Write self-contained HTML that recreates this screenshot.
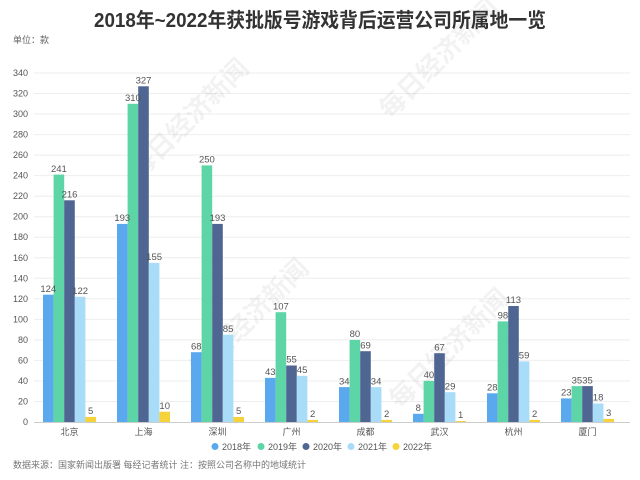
<!DOCTYPE html>
<html><head><meta charset="utf-8"><style>
body{margin:0;background:#fff;}
svg{display:block;font-family:"Liberation Sans","Noto Sans CJK SC",sans-serif;}
</style></head><body>
<svg width="640" height="480" viewBox="0 0 640 480" xmlns="http://www.w3.org/2000/svg">
<rect width="640" height="480" fill="#fff"/>
<text x="320" y="27" text-anchor="middle" font-size="20" font-weight="bold" fill="#333" textLength="452" lengthAdjust="spacingAndGlyphs">2018年~2022年获批版号游戏背后运营公司所属地一览</text>
<text x="13" y="43" font-size="9" fill="#666">单位：款</text>
<g stroke="#eee" stroke-width="1">
<line x1="34" x2="630" y1="401.5" y2="401.5"/><line x1="34" x2="630" y1="381" y2="381"/><line x1="34" x2="630" y1="360.4" y2="360.4"/><line x1="34" x2="630" y1="339.9" y2="339.9"/><line x1="34" x2="630" y1="319.4" y2="319.4"/><line x1="34" x2="630" y1="298.8" y2="298.8"/><line x1="34" x2="630" y1="278.3" y2="278.3"/><line x1="34" x2="630" y1="257.8" y2="257.8"/><line x1="34" x2="630" y1="237.2" y2="237.2"/><line x1="34" x2="630" y1="216.7" y2="216.7"/><line x1="34" x2="630" y1="196.2" y2="196.2"/><line x1="34" x2="630" y1="175.6" y2="175.6"/><line x1="34" x2="630" y1="155.1" y2="155.1"/><line x1="34" x2="630" y1="134.6" y2="134.6"/><line x1="34" x2="630" y1="114" y2="114"/><line x1="34" x2="630" y1="93.5" y2="93.5"/><line x1="34" x2="630" y1="73" y2="73"/>
</g>
<g font-size="9" fill="#555" text-anchor="end">
<text x="28" y="425">0</text><text x="28" y="404.5">20</text><text x="28" y="384">40</text><text x="28" y="363.4">60</text><text x="28" y="342.9">80</text><text x="28" y="322.4">100</text><text x="28" y="301.8">120</text><text x="28" y="281.3">140</text><text x="28" y="260.8">160</text><text x="28" y="240.2">180</text><text x="28" y="219.7">200</text><text x="28" y="199.2">220</text><text x="28" y="178.6">240</text><text x="28" y="158.1">260</text><text x="28" y="137.6">280</text><text x="28" y="117">300</text><text x="28" y="96.5">320</text><text x="28" y="76">340</text>
</g>
<g font-size="26" font-weight="bold" fill="#000" fill-opacity="0.05">
<text x="140" y="180" transform="rotate(-45 140 180)">每日经济新闻</text>
<text x="390" y="120" transform="rotate(-45 390 120)">每日经济新闻</text>
<text x="200" y="380" transform="rotate(-45 200 380)">每日经济新闻</text>
<text x="400" y="410" transform="rotate(-45 400 410)">每日经济新闻</text>
</g>
<!-- bars -->
<g>
<rect x="43" y="294.7" width="10.6" height="127.3" fill="#5aa9ee"/><rect x="53.6" y="174.6" width="10.6" height="247.4" fill="#5dd5a6"/><rect x="64.2" y="200.3" width="10.6" height="221.7" fill="#4f6592"/><rect x="74.8" y="296.8" width="10.6" height="125.2" fill="#a9dcf8"/><rect x="85.4" y="416.9" width="10.6" height="5.1" fill="#f7d33b"/>
<rect x="117" y="223.9" width="10.6" height="198.1" fill="#5aa9ee"/><rect x="127.6" y="103.8" width="10.6" height="318.2" fill="#5dd5a6"/><rect x="138.2" y="86.3" width="10.6" height="335.7" fill="#4f6592"/><rect x="148.8" y="262.9" width="10.6" height="159.1" fill="#a9dcf8"/><rect x="159.4" y="411.7" width="10.6" height="10.3" fill="#f7d33b"/>
<rect x="191" y="352.2" width="10.6" height="69.8" fill="#5aa9ee"/><rect x="201.6" y="165.4" width="10.6" height="256.6" fill="#5dd5a6"/><rect x="212.2" y="223.9" width="10.6" height="198.1" fill="#4f6592"/><rect x="222.8" y="334.7" width="10.6" height="87.3" fill="#a9dcf8"/><rect x="233.4" y="416.9" width="10.6" height="5.1" fill="#f7d33b"/>
<rect x="265" y="377.9" width="10.6" height="44.1" fill="#5aa9ee"/><rect x="275.6" y="312.2" width="10.6" height="109.8" fill="#5dd5a6"/><rect x="286.2" y="365.5" width="10.6" height="56.5" fill="#4f6592"/><rect x="296.8" y="375.8" width="10.6" height="46.2" fill="#a9dcf8"/><rect x="307.4" y="419.9" width="10.6" height="2.1" fill="#f7d33b"/>
<rect x="339" y="387.1" width="10.6" height="34.9" fill="#5aa9ee"/><rect x="349.6" y="339.9" width="10.6" height="82.1" fill="#5dd5a6"/><rect x="360.2" y="351.2" width="10.6" height="70.8" fill="#4f6592"/><rect x="370.8" y="387.1" width="10.6" height="34.9" fill="#a9dcf8"/><rect x="381.4" y="419.9" width="10.6" height="2.1" fill="#f7d33b"/>
<rect x="413" y="413.8" width="10.6" height="8.2" fill="#5aa9ee"/><rect x="423.6" y="380.9" width="10.6" height="41.1" fill="#5dd5a6"/><rect x="434.2" y="353.2" width="10.6" height="68.8" fill="#4f6592"/><rect x="444.8" y="392.2" width="10.6" height="29.8" fill="#a9dcf8"/><rect x="455.4" y="421" width="10.6" height="1" fill="#f7d33b"/>
<rect x="487" y="393.3" width="10.6" height="28.7" fill="#5aa9ee"/><rect x="497.6" y="321.4" width="10.6" height="100.6" fill="#5dd5a6"/><rect x="508.2" y="306" width="10.6" height="116" fill="#4f6592"/><rect x="518.8" y="361.4" width="10.6" height="60.6" fill="#a9dcf8"/><rect x="529.4" y="419.9" width="10.6" height="2.1" fill="#f7d33b"/>
<rect x="561" y="398.4" width="10.6" height="23.6" fill="#5aa9ee"/><rect x="571.6" y="386.1" width="10.6" height="35.9" fill="#5dd5a6"/><rect x="582.2" y="386.1" width="10.6" height="35.9" fill="#4f6592"/><rect x="592.8" y="403.5" width="10.6" height="18.5" fill="#a9dcf8"/><rect x="603.4" y="418.9" width="10.6" height="3.1" fill="#f7d33b"/>
</g>
<line x1="34" x2="630" y1="422.5" y2="422.5" stroke="#ccc"/>
<g font-size="9.5" fill="#555" text-anchor="middle">
<text x="48.3" y="292">124</text><text x="58.9" y="172">241</text><text x="69.5" y="197.5">216</text><text x="80.1" y="294">122</text><text x="90.7" y="414">5</text>
<text x="122.3" y="221">193</text><text x="132.9" y="101">310</text><text x="143.5" y="83.5">327</text><text x="154.1" y="260">155</text><text x="164.7" y="409">10</text>
<text x="196.3" y="349.5">68</text><text x="206.9" y="162.5">250</text><text x="217.5" y="221">193</text><text x="228.1" y="332">85</text><text x="238.7" y="414">5</text>
<text x="270.3" y="375">43</text><text x="280.9" y="309.5">107</text><text x="291.5" y="362.5">55</text><text x="302.1" y="373">45</text><text x="312.7" y="417">2</text>
<text x="344.3" y="384.5">34</text><text x="354.9" y="337">80</text><text x="365.5" y="348.5">69</text><text x="376.1" y="384.5">34</text><text x="386.7" y="417">2</text>
<text x="418.3" y="411">8</text><text x="428.9" y="378">40</text><text x="439.5" y="350.5">67</text><text x="450.1" y="389.5">29</text><text x="460.7" y="418">1</text>
<text x="492.3" y="390.5">28</text><text x="502.9" y="318.5">98</text><text x="513.5" y="303">113</text><text x="524.1" y="358.5">59</text><text x="534.7" y="417">2</text>
<text x="566.3" y="395.5">23</text><text x="576.9" y="383.5">35</text><text x="587.5" y="383.5">35</text><text x="598.1" y="400.5">18</text><text x="608.7" y="416">3</text>
</g>
<g font-size="9" fill="#555" text-anchor="middle">
<text x="69.5" y="435">北京</text><text x="143.5" y="435">上海</text><text x="217.5" y="435">深圳</text><text x="291.5" y="435">广州</text><text x="365.5" y="435">成都</text><text x="439.5" y="435">武汉</text><text x="513.5" y="435">杭州</text><text x="587.5" y="435">厦门</text>
</g>
<g font-size="9" fill="#555">
<circle cx="215" cy="446.5" r="3.5" fill="#5aa9ee"/><text x="222" y="450">2018年</text>
<circle cx="261" cy="446.5" r="3.5" fill="#5dd5a6"/><text x="268" y="450">2019年</text>
<circle cx="306" cy="446.5" r="3.5" fill="#4f6592"/><text x="313" y="450">2020年</text>
<circle cx="351" cy="446.5" r="3.5" fill="#a9dcf8"/><text x="358" y="450">2021年</text>
<circle cx="396" cy="446.5" r="3.5" fill="#f7d33b"/><text x="403" y="450">2022年</text>
</g>
<text x="13" y="468" font-size="9" fill="#777">数据来源：国家新闻出版署 每经记者统计 注：按照公司名称中的地域统计</text>
</svg>
</body></html>
